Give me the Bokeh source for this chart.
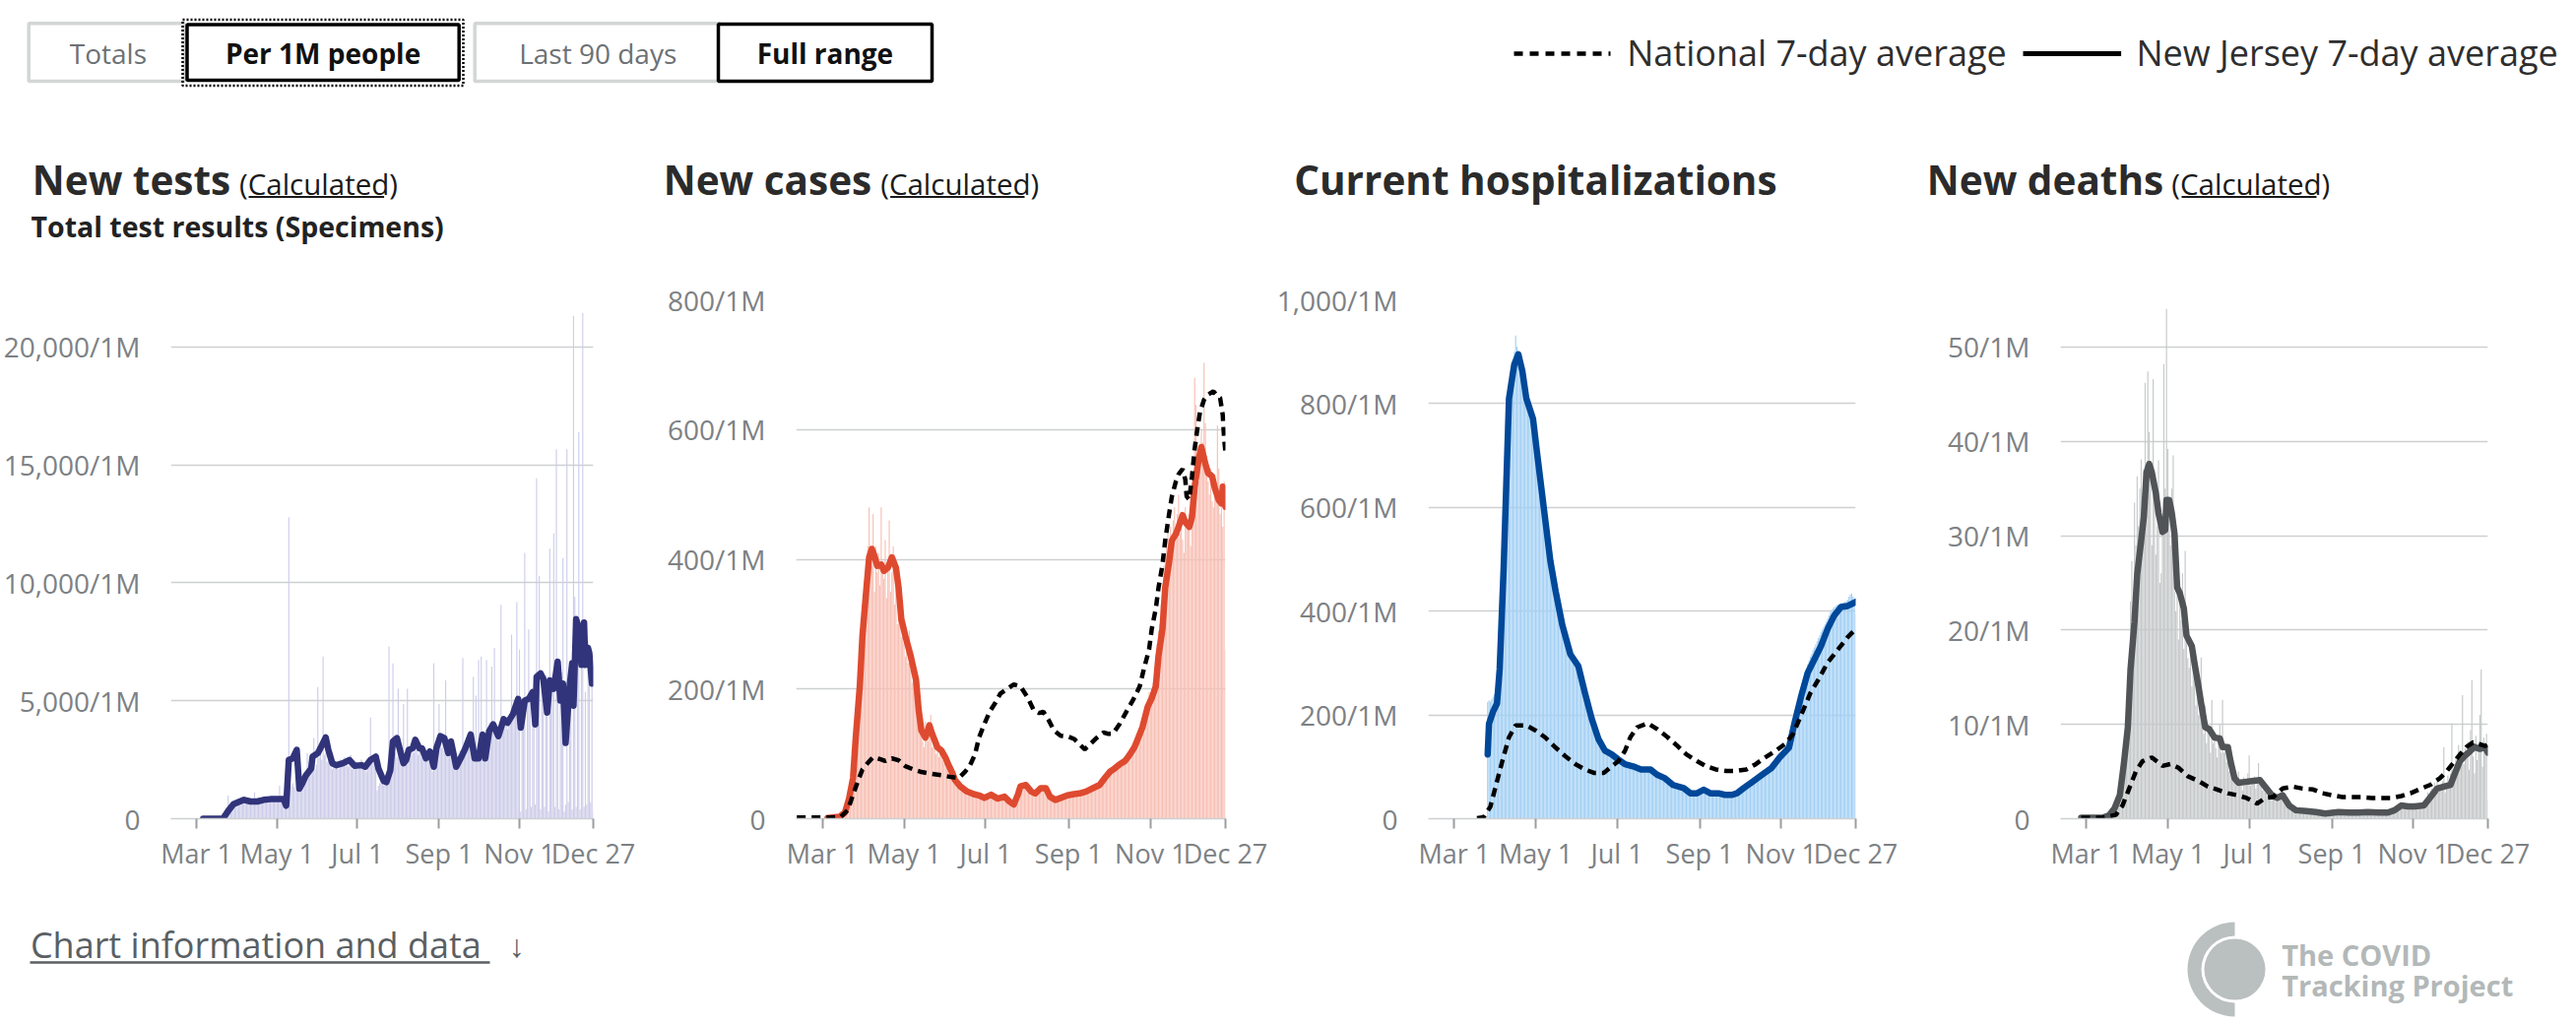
from math import pi
from bokeh.plotting import figure
from bokeh.layouts import column, row
from bokeh.models import Range1d, FixedTicker
from bokeh.core.properties import value
from bokeh.embed import file_html
from bokeh.resources import INLINE

FONT = "Open Sans"

# ---------------- data ----------------
# x = days since Mar 1, 2020
x_ticks = [0, 61, 122, 184, 245, 301]
x_tick_labels = ["Mar 1", "May 1", "Jul 1", "Sep 1", "Nov 1", "Dec 27"]

tests_ticks = [0, 5000, 10000, 15000, 20000]
tests_tick_labels = ["0", "5,000/1M", "10,000/1M", "15,000/1M", "20,000/1M"]
cases_ticks = [0, 200, 400, 600, 800]
cases_tick_labels = ["0", "200/1M", "400/1M", "600/1M", "800/1M"]
hosp_ticks = [0, 200, 400, 600, 800, 1000]
hosp_tick_labels = ["0", "200/1M", "400/1M", "600/1M", "800/1M", "1,000/1M"]
deaths_ticks = [0, 10, 20, 30, 40, 50]
deaths_tick_labels = ["0", "10/1M", "20/1M", "30/1M", "40/1M", "50/1M"]

tests_bar_start = 0
tests_bars = [
    0, 0, 0, 0, 10, 15, 20,
    25, 30, 40, 35, 50, 60, 55,
    70, 80, 75, 90, 100, 120, 150,
    250, 380, 450, 980, 520, 600, 640,
    700, 650, 720, 760, 680, 740, 800,
    820, 760, 700, 780, 740, 690, 760,
    720, 700, 1120, 690, 650, 740, 780,
    800, 760, 820, 850, 780, 810, 840,
    860, 820, 800, 840, 870, 830, 850,
    1410, 800, 780, 700, 620, 450, 600,
    12780, 1300, 1400, 1500, 1350, 1250, 1450,
    1300, 1200, 1500, 1600, 1700, 1650, 1800,
    2780, 1900, 2000, 2200, 2400, 3420, 2100,
    2300, 5580, 2600, 2900, 2500, 6880, 2700,
    2800, 2400, 2600, 2300, 2200, 2100, 2500,
    2300, 2400, 2200, 2100, 2500, 2300, 2400,
    2600, 2500, 2300, 2200, 2400, 2700, 2100,
    2200, 2300, 2400, 2100, 2200, 2300, 2500,
    2200, 2100, 2300, 2000, 2300, 2400, 4290,
    2600, 2500, 2400, 2300, 1200, 1400, 1500,
    1500, 1600, 1400, 1500, 1600, 1700, 7310,
    2200, 2500, 6590, 3000, 2800, 2600, 5510,
    2700, 2500, 2400, 4860, 2300, 2600, 5510,
    2800, 2900, 2700, 3100, 2800, 3000, 2900,
    2700, 3000, 2800, 2600, 2900, 2500, 2800,
    2700, 2900, 2400, 2300, 2000, 6590, 2600,
    2900, 3100, 4860, 3200, 3000, 3300, 2900,
    5870, 2700, 2600, 3100, 2800, 2500, 2400,
    2300, 2100, 2600, 2800, 2900, 2700, 6810,
    3100, 3000, 3200, 3400, 3300, 3100, 3500,
    6010, 2800, 5220, 2600, 6730, 2700, 6880,
    2900, 3100, 2800, 6730, 3300, 3500, 3600,
    6450, 3800, 7240, 3400, 3600, 3300, 3900,
    9070, 4100, 3900, 4200, 4300, 3800, 4000,
    4200, 7810, 4300, 4500, 4400, 9180, 4600,
    7170, 300, 4800, 5000, 11270, 400, 5200,
    8030, 5300, 500, 5500, 5100, 600, 14430,
    5600, 10290, 400, 5800, 5900, 500, 6100,
    5400, 300, 11450, 5200, 6000, 12100, 500,
    15660, 5500, 400, 5900, 6200, 11050, 300,
    600, 15660, 700, 6300, 6600, 400, 21310,
    9400, 500, 7000, 16400, 400, 6800, 21440,
    500, 5370, 600, 7500, 6600, 700, 5800, 300]
tests_avg_pts = [
    (5, 0), (20, 0), (24, 330), (28, 620), (31, 690), (36, 800), (41, 730), (46, 730),
    (51, 800), (56, 830), (61, 830), (66, 830), (68, 550), (70, 2490), (73, 2560),
    (76, 2920), (78, 1270), (80, 1480), (83, 1840), (87, 2130), (88, 2630), (92, 2780),
    (94, 2990), (98, 3450), (100, 2920), (103, 2350), (106, 2270), (111, 2350),
    (116, 2490), (120, 2240), (125, 2270), (128, 2200), (132, 2490), (136, 2630),
    (138, 2130), (142, 1600), (144, 1550), (147, 2060), (149, 3280), (152, 3420),
    (154, 2990), (157, 2350), (159, 2490), (161, 2920), (164, 2990), (166, 3350),
    (169, 2990), (171, 2990), (174, 2560), (177, 2850), (180, 2200), (182, 2990),
    (185, 3500), (188, 3420), (191, 2780), (193, 3280), (197, 2200), (201, 2630),
    (204, 2990), (208, 3570), (211, 2560), (214, 2560), (217, 3570), (219, 2560),
    (222, 3710), (225, 4000), (229, 3500), (233, 4220), (236, 4070), (240, 4430),
    (244, 5080), (246, 3860), (249, 5010), (252, 5080), (255, 5370), (257, 4000),
    (258, 6010), (261, 6160), (263, 5940), (266, 4500), (268, 5870), (271, 5510),
    (274, 6660), (276, 5010), (278, 5730), (280, 3210), (283, 5580), (285, 6590),
    (286, 4790), (288, 8460), (290, 8100), (292, 6520), (294, 8320), (295, 6520),
    (297, 7240), (298, 7020), (300, 5730)]

cases_bar_start = 0
cases_bars = [
    0, 0, 0, 0, 0, 1, 1,
    1, 2, 2, 3, 4, 5, 6,
    8, 10, 12, 16, 22, 28, 35,
    45, 60, 75, 95, 120, 160, 200,
    250, 290, 330, 300, 360, 380, 420,
    480, 400, 390, 470, 350, 420, 380,
    410, 360, 480, 390, 370, 430, 340,
    400, 460, 350, 380, 420, 330, 360,
    300, 330, 340, 280, 320, 270, 250,
    260, 240, 290, 230, 210, 250, 200,
    180, 160, 150, 130, 140, 120, 110,
    150, 140, 120, 130, 160, 110, 125,
    115, 100, 105, 95, 110, 100, 90,
    85, 95, 80, 75, 70, 80, 65,
    60, 58, 55, 52, 50, 48, 45,
    44, 40, 42, 38, 45, 40, 36,
    38, 35, 40, 34, 37, 36, 33,
    32, 30, 34, 29, 35, 37, 33,
    36, 38, 31, 29, 33, 30, 28,
    34, 32, 30, 28, 26, 24, 22,
    23, 20, 25, 21, 24, 38, 45,
    50, 55, 48, 52, 56, 47, 44,
    42, 40, 45, 38, 41, 39, 46,
    48, 45, 50, 44, 47, 49, 42,
    38, 33, 30, 31, 28, 26, 30,
    32, 34, 31, 33, 35, 37, 36,
    35, 38, 40, 37, 36, 41, 39,
    38, 42, 40, 43, 39, 41, 44,
    45, 42, 48, 44, 47, 50, 46,
    49, 52, 48, 55, 51, 54, 58,
    62, 60, 66, 70, 68, 75, 72,
    78, 74, 80, 85, 82, 88, 86,
    90, 95, 88, 98, 102, 96, 105,
    110, 115, 108, 118, 125, 130, 135,
    140, 150, 160, 170, 175, 185, 195,
    180, 200, 210, 230, 250, 270, 290,
    300, 330, 360, 390, 410, 430, 440,
    420, 450, 400, 460, 480, 430, 470,
    500, 440, 470, 430, 410, 480, 460,
    450, 470, 420, 500, 460, 680, 638,
    560, 520, 540, 600, 580, 703, 610,
    560, 520, 500, 540, 490, 480, 530,
    510, 606, 540, 470, 480, 450, 520, 260]
cases_avg_pts = [
    (4, 1), (13, 3), (17, 10), (20, 31), (23, 63), (25, 125), (28, 204), (30, 282),
    (33, 356), (35, 403), (37, 416), (39, 405), (41, 390), (44, 392), (46, 382),
    (49, 387), (52, 403), (55, 387), (57, 356), (59, 308), (62, 282), (66, 251),
    (70, 214), (72, 167), (74, 136), (77, 125), (80, 144), (82, 131), (86, 110),
    (89, 105), (92, 94), (94, 84), (97, 71), (99, 60), (103, 50), (108, 42),
    (113, 38), (117, 36), (121, 32), (126, 37), (131, 31), (136, 34), (140, 26),
    (143, 22), (146, 37), (148, 50), (152, 52), (156, 42), (159, 39), (163, 47),
    (167, 47), (170, 34), (174, 29), (178, 32), (183, 36), (188, 38), (192, 39),
    (197, 42), (202, 47), (207, 52), (211, 63), (215, 73), (218, 77), (222, 84),
    (226, 89), (229, 97), (233, 110), (235, 120), (239, 141), (243, 173), (246, 186),
    (249, 204), (251, 251), (254, 293), (256, 356), (259, 397), (261, 429), (264, 439),
    (266, 450), (269, 468), (271, 457), (274, 450), (276, 465), (278, 512), (281, 554),
    (283, 573), (286, 547), (288, 533), (291, 528), (293, 510), (296, 491), (298, 486),
    (299, 512), (301, 481)]
cases_nat_pts = [
    (-19, 2), (-2, 2), (6, 2), (14, 3), (19, 13), (23, 37), (27, 60), (30, 76), (34, 86),
    (38, 95), (43, 92), (47, 89), (52, 93), (57, 90), (62, 81), (68, 76), (74, 72),
    (82, 69), (89, 67), (97, 64), (102, 63), (106, 71), (110, 81), (114, 99), (117, 125),
    (121, 146), (125, 165), (129, 178), (133, 193), (138, 200), (143, 207), (148, 204),
    (153, 188), (158, 167), (162, 163), (165, 165), (169, 152), (173, 136), (178, 128),
    (183, 127), (188, 123), (192, 115), (196, 107), (200, 115), (205, 125), (210, 133),
    (213, 131), (217, 131), (222, 146), (227, 165), (232, 183), (237, 204), (240, 230),
    (244, 261), (246, 293), (249, 324), (251, 356), (254, 392), (256, 429), (259, 471),
    (261, 497), (264, 520), (266, 531), (269, 539), (271, 523), (272, 497), (274, 492),
    (276, 528), (278, 570), (280, 601), (282, 627), (285, 646), (288, 654), (292, 659),
    (294, 654), (297, 649), (299, 622), (300, 586), (301, 565)]

hosp_bar_start = 25
hosp_bars = [
    225, 228, 226, 230, 235, 240, 250,
    270, 300, 340, 400, 480, 560, 640,
    700, 760, 810, 840, 860, 880, 900,
    931, 910, 900, 890, 875, 860, 840,
    820, 805, 795, 785, 780, 770, 760,
    740, 720, 705, 690, 670, 650, 630,
    605, 585, 565, 540, 515, 495, 480,
    460, 445, 435, 420, 405, 392, 380,
    370, 360, 350, 340, 330, 322, 315,
    308, 302, 298, 295, 292, 290, 285,
    278, 265, 252, 240, 228, 215, 205,
    195, 188, 180, 172, 163, 156, 150,
    145, 140, 136, 132, 129, 126, 125,
    124, 124, 123, 121, 119, 117, 114,
    112, 110, 108, 106, 105, 104, 103,
    102, 101, 100, 99, 98, 97, 96,
    96, 95, 95, 94, 94, 93, 93,
    92, 92, 91, 90, 88, 86, 85,
    84, 83, 82, 81, 80, 79, 77,
    76, 74, 72, 70, 68, 66, 65,
    64, 63, 62, 61, 60, 59, 58,
    56, 54, 52, 50, 49, 48, 48,
    49, 50, 51, 52, 53, 54, 55,
    56, 55, 53, 51, 50, 49, 49,
    48, 48, 49, 48, 47, 47, 46,
    46, 46, 45, 46, 45, 44, 45,
    46, 46, 47, 48, 49, 50, 52,
    54, 56, 58, 60, 62, 64, 66,
    68, 70, 72, 74, 76, 79, 82,
    84, 86, 88, 90, 92, 94, 96,
    98, 100, 102, 105, 108, 111, 114,
    117, 120, 123, 126, 129, 132, 135,
    138, 142, 148, 156, 166, 176, 188,
    200, 212, 225, 238, 250, 262, 272,
    282, 290, 298, 305, 312, 318, 325,
    330, 336, 342, 348, 354, 360, 365,
    370, 375, 380, 386, 392, 398, 402,
    405, 408, 410, 412, 413, 414, 415,
    416, 417, 418, 420, 422, 428, 432,
    434, 428, 420, 395]
hosp_avg_pts = [
    (25, 124), (26, 183), (29, 206), (32, 222), (34, 288), (35, 353), (37, 484),
    (39, 647), (41, 810), (45, 876), (48, 895), (51, 863), (54, 810), (59, 771),
    (62, 706), (67, 601), (72, 497), (76, 438), (81, 373), (87, 317), (93, 294),
    (98, 242), (103, 193), (108, 154), (113, 131), (118, 124), (123, 114), (128, 105),
    (134, 101), (140, 95), (147, 95), (152, 85), (158, 78), (164, 65), (172, 59),
    (177, 49), (182, 49), (187, 56), (192, 49), (198, 49), (203, 46), (208, 46),
    (212, 49), (217, 59), (224, 72), (231, 85), (238, 98), (244, 118), (251, 137),
    (255, 183), (260, 235), (265, 281), (270, 307), (275, 333), (280, 366), (285, 392),
    (290, 408), (295, 410), (299, 415), (301, 418)]
hosp_nat_pts = [
    (17, 1), (22, 3), (27, 23), (32, 72), (36, 111), (41, 157), (46, 180), (54, 180),
    (61, 170), (68, 157), (76, 137), (83, 121), (91, 105), (98, 95), (105, 88),
    (112, 88), (118, 101), (123, 111), (128, 131), (132, 157), (137, 176), (145, 184),
    (152, 173), (160, 157), (167, 141), (174, 124), (182, 111), (189, 101), (196, 95),
    (204, 92), (211, 92), (219, 95), (226, 105), (233, 118), (241, 131), (248, 144),
    (254, 163), (260, 199), (267, 242), (273, 268), (280, 301), (288, 327), (295, 350),
    (300, 363)]

deaths_bar_start = 0
deaths_bars = [
    0, 0, 0, 0, 0, 0, 0,
    0, 0, 0, 0.1, 0, 0.1, 0.1,
    0.2, 0.1, 0.3, 0.4, 0.6, 0.8, 1.1,
    1.5, 1.8, 2.5, 3.0, 3.8, 4.6, 6.0,
    7.5, 9.5, 11, 14, 16, 23, 27.3,
    22, 33.5, 29, 36.3, 31, 35, 38.1,
    30, 37, 46.2, 33, 47.4, 41, 36,
    29, 46.6, 34, 28, 31, 38, 25,
    26, 31, 48.2, 35, 54, 39.2, 33,
    29, 35, 38.5, 24, 22, 27, 19,
    23, 21, 26, 18, 28.4, 20, 17,
    16, 19, 14, 18, 15, 12, 16,
    11, 13, 17.1, 10, 9, 12, 8,
    10, 9, 7, 12.6, 8, 9, 7.5,
    6.5, 8, 10, 7, 12.6, 7, 8,
    6, 7.5, 5, 6.5, 4.5, 5, 4,
    3.5, 4.5, 5, 3.8, 4.2, 3, 4.4,
    4, 3.6, 4.8, 6.7, 3.5, 4.2, 3.8,
    4.5, 3.2, 4, 5.9, 3.8, 3.5, 3,
    3.6, 2.8, 3.2, 2.4, 2.9, 2, 2.5,
    2.2, 2.8, 1.8, 2.4, 2.6, 2, 2.3,
    2.8, 2.5, 2, 1.6, 1.4, 1.2, 1.5,
    1.1, 0.9, 1, 0.8, 0.7, 0.9, 0.8,
    0.6, 0.8, 0.9, 0.7, 0.8, 0.6, 1,
    0.8, 0.7, 0.9, 0.6, 0.8, 0.7, 0.5,
    0.6, 0.5, 0.7, 0.4, 0.6, 0.5, 0.7,
    0.8, 0.6, 0.5, 0.7, 0.9, 0.6, 0.7,
    0.7, 0.5, 0.8, 0.6, 0.7, 0.6, 0.5,
    0.6, 0.8, 0.5, 0.7, 0.6, 0.9, 0.6,
    0.5, 0.7, 0.6, 0.8, 0.6, 0.7, 0.5,
    0.8, 0.6, 0.7, 0.9, 0.5, 0.6, 0.7,
    0.6, 0.8, 0.5, 0.7, 0.6, 0.7, 0.6,
    0.5, 0.8, 0.7, 0.6, 0.9, 0.7, 0.8,
    1.0, 1.2, 0.9, 1.5, 1.3, 1.4, 1.6,
    1.2, 1.5, 1.1, 1.4, 1.2, 1.6, 1.3,
    1.2, 1.5, 1.0, 1.4, 1.3, 1.6, 1.2,
    1.5, 1.3, 1.8, 2.2, 2.8, 2.4, 3.0,
    3.2, 2.6, 3.8, 3.4, 4.2, 2.8, 3.6,
    3.0, 4.0, 7.6, 2.8, 3.4, 4.6, 3.2,
    4.8, 10.1, 3.5, 5.2, 6.5, 4.8, 7.8,
    5.5, 6.2, 13.1, 5.8, 7.5, 6.4, 8.2,
    5.2, 9.4, 14.7, 6.6, 4.8, 8.8, 6.2,
    7.4, 11, 15.8, 5.5, 8.6, 7.2, 9.0, 2.0]
deaths_avg_pts = [
    (-4, 0.1), (12, 0.1), (17, 0.36), (21, 1.1), (25, 2.5), (28, 5.8), (31, 9.7),
    (33, 15.8), (36, 20.9), (38, 25.9), (41, 29.5), (43, 32), (45, 36.7), (47, 37.6),
    (49, 36.7), (52, 34.5), (54, 32.4), (57, 30.4), (59, 30.6), (60, 33.8), (62, 33.8),
    (64, 32.4), (66, 30.2), (68, 24.5), (70, 23.9), (73, 22.3), (75, 19.4), (79, 18.3),
    (81, 16.5), (84, 14), (86, 12.2), (89, 9.7), (92, 9.5), (96, 8.6), (100, 8.5),
    (102, 7.6), (106, 7.6), (108, 6.1), (111, 4.3), (114, 3.8), (119, 3.9), (124, 4),
    (130, 4.1), (135, 3.2), (139, 2.5), (143, 2.2), (147, 2.5), (152, 1.4), (157, 0.9),
    (165, 0.8), (172, 0.7), (179, 0.54), (189, 0.7), (197, 0.65), (204, 0.65),
    (211, 0.7), (219, 0.65), (226, 0.65), (231, 0.9), (236, 1.4), (241, 1.3),
    (246, 1.3), (253, 1.4), (258, 2.3), (263, 3.2), (268, 3.4), (273, 3.6), (276, 4.7),
    (280, 6.1), (284, 6.7), (288, 7.2), (291, 7.6), (295, 7.4), (299, 7.6), (301, 7.0)]
deaths_nat_pts = [
    (-4, 0.1), (12, 0.1), (22, 0.4), (27, 1.4), (32, 3.2), (37, 5), (42, 6.1), (49, 6.5),
    (57, 5.6), (63, 5.8), (69, 5.4), (76, 4.5), (84, 4), (91, 3.4), (98, 3.1), (106, 2.7),
    (113, 2.5), (120, 2.2), (128, 1.6), (134, 2.2), (140, 2.3), (147, 3.2), (155, 3.4),
    (162, 3.2), (170, 3.1), (177, 2.7), (184, 2.5), (192, 2.3), (199, 2.3), (206, 2.3),
    (214, 2.2), (221, 2.2), (229, 2.2), (236, 2.4), (243, 2.7), (251, 3.2), (258, 3.6),
    (265, 4.3), (270, 5), (275, 5.9), (280, 6.8), (285, 7.6), (290, 8.1), (295, 7.9),
    (299, 7.7), (301, 7.9)]

titles = ["New tests", "New cases", "Current hospitalizations", "New deaths"]

# ---------------- styling ----------------
GRID = "#cdd0d1"
TICK_TXT = "#7d8184"


def make_panel(width, left, right, ymax, ticks, labels, bar_start, bars, bar_color,
               avg_pts, line_color, nat_pts=None):
    p = figure(width=width, height=645, x_range=Range1d(-19.5, 301), y_range=Range1d(0, ymax),
               output_backend="svg", toolbar_location=None, tools="",
               min_border_left=left, min_border_right=right,
               min_border_top=44, min_border_bottom=74)
    p.outline_line_color = None
    p.background_fill_color = "white"
    p.border_fill_color = "white"
    p.xgrid.visible = False
    p.ygrid.grid_line_color = GRID
    p.ygrid.grid_line_width = 1.5
    days = list(range(bar_start, bar_start + len(bars)))
    p.vbar(x=days, top=bars, bottom=0, width=0.85, fill_color=bar_color, line_color=None)
    ax, ay = zip(*avg_pts)
    p.line(list(ax), list(ay), line_color=line_color, line_width=6.5,
           line_join="round", line_cap="round")
    if nat_pts:
        nx, ny = zip(*nat_pts)
        p.line(list(nx), list(ny), line_color="black", line_width=4.5, line_dash="9 6")
    xa = p.xaxis[0]
    xa.ticker = FixedTicker(ticks=x_ticks, minor_ticks=[])
    xa.major_label_overrides = {t: l for t, l in zip(x_ticks, x_tick_labels)}
    xa.axis_line_color = GRID
    xa.axis_line_width = 1.5
    xa.major_tick_line_color = "#9a9ea0"
    xa.major_tick_line_width = 2
    xa.major_tick_in = 0
    xa.major_tick_out = 10
    xa.minor_tick_line_color = None
    xa.major_label_standoff = 6
    xa.major_label_text_font = FONT
    xa.major_label_text_font_size = "27px"
    xa.major_label_text_color = TICK_TXT
    ya = p.yaxis[0]
    ya.ticker = FixedTicker(ticks=ticks, minor_ticks=[])
    ya.major_label_overrides = {t: l for t, l in zip(ticks, labels)}
    ya.axis_line_color = None
    ya.major_tick_line_color = None
    ya.minor_tick_line_color = None
    ya.major_label_standoff = 25
    ya.major_label_text_font = FONT
    ya.major_label_text_font_size = "28px"
    ya.major_label_text_color = TICK_TXT
    return p


p1 = make_panel(648, 168, 46, 22000, tests_ticks, tests_tick_labels, tests_bar_start,
                tests_bars, "#cdcdea", tests_avg_pts, "#31347a")
p2 = make_panel(642, 160, 46, 800, cases_ticks, cases_tick_labels, cases_bar_start,
                cases_bars, "#f8c0b5", cases_avg_pts, "#de4a2f", cases_nat_pts)
p3 = make_panel(642, 160, 48, 1000, hosp_ticks, hosp_tick_labels, hosp_bar_start,
                hosp_bars, "#a3d0f5", hosp_avg_pts, "#004899", hosp_nat_pts)
p4 = make_panel(684, 160, 90, 55, deaths_ticks, deaths_tick_labels, deaths_bar_start,
                deaths_bars, "#c5c9c9", deaths_avg_pts, "#505457", deaths_nat_pts)


def canvas(height, y_top):
    f = figure(width=2616, height=height, x_range=Range1d(0, 2616),
               y_range=Range1d(y_top + height, y_top), x_axis_type=None, y_axis_type=None,
               output_backend="svg", toolbar_location=None, tools="", min_border=0)
    f.outline_line_color = None
    f.background_fill_color = "white"
    f.border_fill_color = "white"
    return f


# ---------------- header ----------------
hdr = canvas(260, 0)
hdr.quad(left=[28.7, 481.7], right=[187, 730.5], top=[23.3, 23.3], bottom=[82, 82],
         fill_color="white", line_color="#d3d6d6", line_width=3.5)
hdr.quad(left=[189.5, 729], right=[465.7, 946], top=[24.5, 24], bottom=[81, 82],
         fill_color="white", line_color="black", line_width=3.5)
hdr.quad(left=[185], right=[470], top=[19.5], bottom=[86.5], fill_color=None,
         line_color="black", line_width=2.5, line_dash="2 2")
hdr.text(x=[109.4, 606.7], y=[53, 53], text=["Totals", "Last 90 days"], text_align="center",
         text_baseline="middle", text_font=value(FONT), text_font_size=value("28px"),
         text_color="#6d7174")
hdr.text(x=[327.6, 837.4], y=[53, 53], text=["Per 1M people", "Full range"], text_align="center",
         text_baseline="middle", text_font=value(FONT), text_font_size=value("28px"),
         text_font_style="bold", text_color="#111111")
hdr.line([1537, 1635], [54, 54], line_color="black", line_width=4.5, line_dash="9 7")
hdr.line([2054, 2153.6], [54, 54], line_color="black", line_width=5)
hdr.text(x=[1651.7, 2169], y=[53, 53], text=["National 7-day average", "New Jersey 7-day average"],
         text_align="left", text_baseline="middle", text_font=value(FONT),
         text_font_size=value("36px"), text_color="#2e2e2e")
hdr.text(x=[32.3, 673.2, 1313.7, 1956.3], y=[182] * 4, text=titles, text_align="left",
         text_baseline="middle", text_font=value(FONT), text_font_size=value("40.5px"),
         text_font_style="bold", text_color="#2b2b2b")
hdr.text(x=[242.5, 893.7, 2204.8], y=[186] * 3, text=["(Calculated)"] * 3, text_align="left",
         text_baseline="middle", text_font=value(FONT), text_font_size=value("29.5px"),
         text_color="#1a1a1a")
hdr.segment(x0=[252, 903.6, 2215], y0=[199.5] * 3, x1=[389.6, 1040, 2352], y1=[199.5] * 3,
            line_color="#1a1a1a", line_width=2)
hdr.text(x=[31], y=[229], text=["Total test results (Specimens)"], text_align="left",
         text_baseline="middle", text_font=value(FONT), text_font_size=value("28.5px"),
         text_font_style="bold", text_color="#222222")

# ---------------- footer ----------------
ftr = canvas(135, 905)
ftr.text(x=[30.4], y=[958.5], text=["Chart information and data"], text_align="left",
         text_baseline="middle", text_font=value(FONT), text_font_size=value("36px"),
         text_color="#5a5f63")
ftr.segment(x0=[30], y0=[977], x1=[497], y1=[977], line_color="#5a5f63", line_width=2.5)
ftr.text(x=[524.5], y=[958.5], text=["\u2193"], text_align="center", text_baseline="middle",
         text_font=value(FONT), text_font_size=value("32px"), text_color="#5a5f63")
ftr.annular_wedge(x=[2269], y=[984], inner_radius=34, outer_radius=48, start_angle=pi / 2,
                  end_angle=3 * pi / 2, direction="anticlock", fill_color="#babfbf",
                  line_color=None)
ftr.circle(x=[2269], y=[984], radius=31, fill_color="#babfbf", line_color=None)
ftr.text(x=[2316.7, 2316.7], y=[969, 1000], text=["The COVID", "Tracking Project"],
         text_align="left", text_baseline="middle", text_font=value(FONT),
         text_font_size=value("29px"), text_font_style="bold", text_color="#b3b8b8")

layout = column(hdr, row(p1, p2, p3, p4), ftr)
open("out.html", "w").write(file_html(layout, INLINE))
